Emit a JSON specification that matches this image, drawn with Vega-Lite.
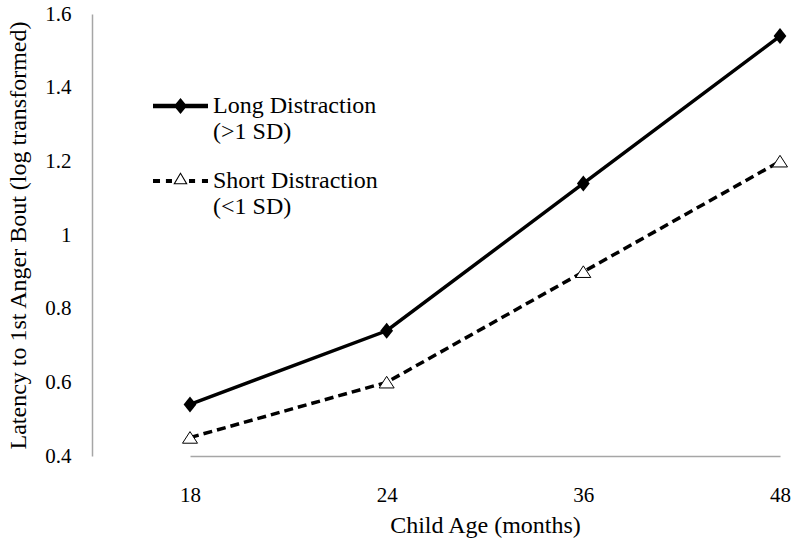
{
  "$schema": "https://vega.github.io/schema/vega-lite/v6.json",
  "autosize": {"type": "none"},
  "padding": {"left": 92, "top": 14, "right": 2, "bottom": 94},
  "width": 706,
  "height": 442,
  "background": "white",
  "config": {
    "view": {"stroke": null},
    "font": "Liberation Serif",
    "axis": {
      "grid": false,
      "ticks": false,
      "domainColor": "#a6a6a6",
      "domainWidth": 1.5,
      "labelFont": "Liberation Serif",
      "labelColor": "#000000",
      "labelFontSize": 21,
      "titleFont": "Liberation Serif",
      "titleFontWeight": "normal",
      "titleColor": "#000000",
      "titleFontSize": 24
    }
  },
  "data": {
    "values": [
      {"age": "18", "series": "Long Distraction (>1 SD)", "value": 0.54},
      {"age": "24", "series": "Long Distraction (>1 SD)", "value": 0.74},
      {"age": "36", "series": "Long Distraction (>1 SD)", "value": 1.14},
      {"age": "48", "series": "Long Distraction (>1 SD)", "value": 1.54},
      {"age": "18", "series": "Short Distraction (<1 SD)", "value": 0.45},
      {"age": "24", "series": "Short Distraction (<1 SD)", "value": 0.60},
      {"age": "36", "series": "Short Distraction (<1 SD)", "value": 0.90},
      {"age": "48", "series": "Short Distraction (<1 SD)", "value": 1.20}
    ]
  },
  "encoding": {
    "x": {
      "field": "age",
      "type": "ordinal",
      "sort": ["18", "24", "36", "48"],
      "scale": {"type": "point", "range": [98, 688], "padding": 0},
      "axis": {"title": "Child Age (months)", "labelAngle": 0, "labelPadding": 28, "titlePadding": 8}
    },
    "y": {
      "field": "value",
      "type": "quantitative",
      "scale": {"domain": [0.4, 1.6], "nice": false, "zero": false},
      "axis": {
        "title": "Latency to 1st Anger Bout (log transformed)",
        "values": [0.4, 0.6, 0.8, 1.0, 1.2, 1.4, 1.6],
        "format": ".2~f",
        "labelPadding": 21,
        "titlePadding": 14
      }
    }
  },
  "layer": [
    {
      "transform": [{"filter": "datum.series == 'Long Distraction (>1 SD)'"}],
      "mark": {"type": "line", "color": "black", "strokeWidth": 3.5}
    },
    {
      "transform": [{"filter": "datum.series == 'Short Distraction (<1 SD)'"}],
      "mark": {"type": "line", "color": "black", "strokeWidth": 3.5, "strokeDash": [9, 5]}
    },
    {
      "transform": [{"filter": "datum.series == 'Long Distraction (>1 SD)'"}],
      "mark": {"type": "point", "shape": "M0,-1L0.8,0L0,1L-0.8,0Z", "size": 256, "filled": true, "color": "black", "opacity": 1}
    },
    {
      "transform": [{"filter": "datum.series == 'Short Distraction (<1 SD)'"}],
      "mark": {"type": "point", "shape": "M0,-0.8L1,0.75L-1,0.75Z", "size": 225, "filled": false, "fill": "white", "stroke": "black", "strokeWidth": 1, "opacity": 1}
    },
    {
      "transform": [{"filter": "false"}],
      "mark": {"type": "point", "filled": true, "color": "black", "opacity": 1},
      "encoding": {
        "shape": {
          "field": "series",
          "type": "nominal",
          "scale": {
            "domain": ["Long Distraction (>1 SD)", "Short Distraction (<1 SD)"],
            "range": [
              "M-1,-0.08H1V0.08H-1Z M0,-0.29L0.24,0L0,0.29L-0.24,0Z",
              "M-1,-0.07H-0.745V0.07H-1Z M-0.53,-0.07H-0.31V0.07H-0.53Z M0.31,-0.07H0.53V0.07H0.31Z M0.78,-0.07H1V0.07H0.78Z M0,-0.32L0.26,0.12L-0.26,0.12Z M0,-0.241L-0.19,0.08L0.19,0.08Z"
            ]
          },
          "legend": {
            "title": null,
            "orient": "none",
            "legendX": 61,
            "legendY": 64.5,
            "padding": 0,
            "symbolSize": 3025,
            "symbolFillColor": "black",
            "symbolStrokeWidth": 0,
            "symbolOpacity": 1,
            "labelFont": "Liberation Serif",
            "labelFontSize": 24,
            "labelColor": "black",
            "labelOffset": 5,
            "labelLimit": 400,
            "labelBaseline": "middle",
            "rowPadding": 9,
            "labelExpr": "datum.label == 'Long Distraction (>1 SD)' ? ['Long Distraction', '(>1 SD)'] : ['Short Distraction', '(<1 SD)']"
          }
        }
      }
    }
  ]
}
